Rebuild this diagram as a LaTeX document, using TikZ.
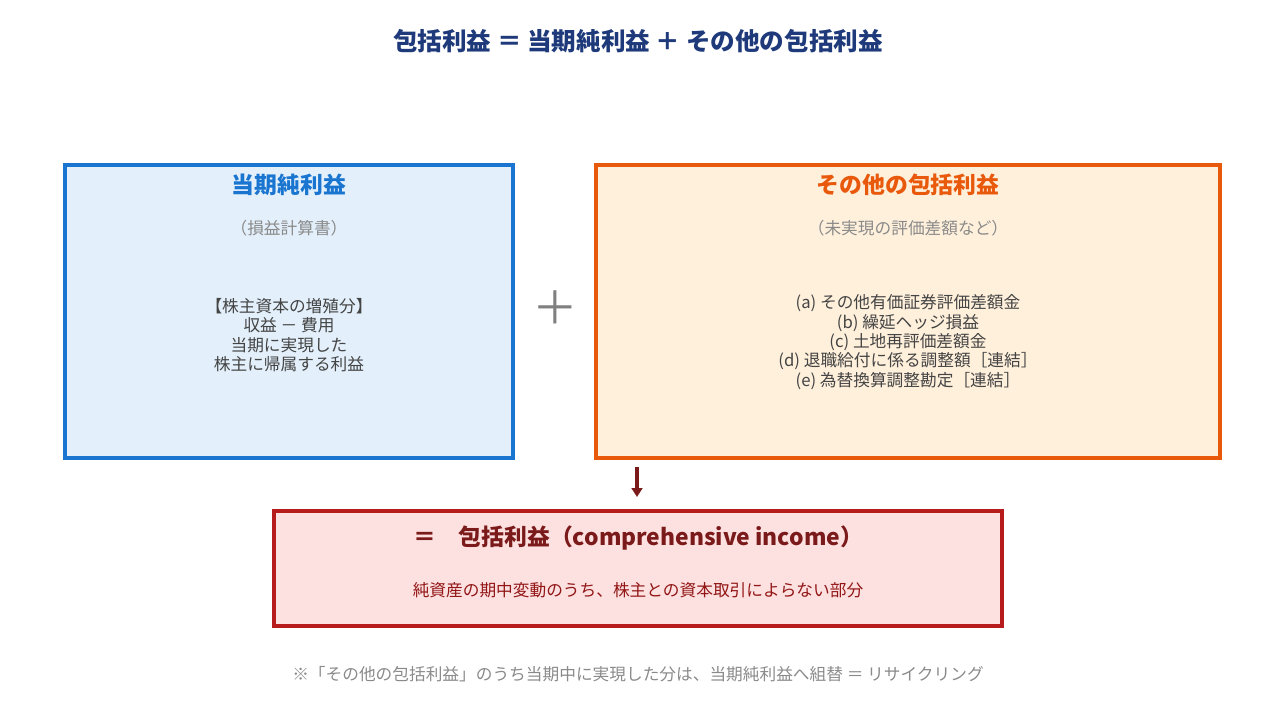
\documentclass[tikz,border=0pt]{standalone}
\usepackage{fontspec}
\setmainfont{Noto Sans CJK JP}
\newfontfamily\cjkbold[BoldFont={Noto Sans CJK JP Bold}]{Noto Sans CJK JP}
\usetikzlibrary{arrows.meta}
\definecolor{navy}{HTML}{1F3A7A}
\definecolor{blueline}{HTML}{1A75D0}
\definecolor{bluefill}{HTML}{E3F0FB}
\definecolor{orangeline}{HTML}{E8590C}
\definecolor{orangefill}{HTML}{FFF0DC}
\definecolor{redline}{HTML}{B71C1C}
\definecolor{redfill}{HTML}{FDE0E0}
\definecolor{darkred}{HTML}{7B1A1A}
\definecolor{graytext}{HTML}{8A8A8A}
\definecolor{bodytext}{HTML}{444444}
\tikzset{
  box/.style={draw, line width=2pt, inner sep=0pt},
  head/.style={font=\fontsize{13}{15}\selectfont\bfseries},
  sub/.style={font=\fontsize{9.5}{11}\selectfont, text=graytext},
  body/.style={font=\fontsize{9.5}{11}\selectfont, text=bodytext, align=center}
}
\begin{document}
\begin{tikzpicture}[x=0.02cm,y=-0.02cm]
        \useasboundingbox (0,0) rectangle (1275,717);
        \node[text=navy, font=\fontsize{14}{16}\selectfont\bfseries] (title) at (638,41) {包括利益 ＝ 当期純利益 ＋ その他の包括利益};

        \draw[box, draw=blueline, fill=bluefill] (65,165) rectangle (513,458);
        \node[head, text=blueline] (netHead) at (289,185) {当期純利益};
        \node[sub] (netSub) at (289,228) {（損益計算書）};
        \node[body] (netBody) at (289,335) {【株主資本の増殖分】\\収益 － 費用\\当期に実現した\\株主に帰属する利益};

        \node[text=gray, font=\fontsize{26}{28}\selectfont] (plus) at (555,308) {＋};

        \draw[box, draw=orangeline, fill=orangefill] (596,165) rectangle (1220,458);
        \node[head, text=orangeline] (ociHead) at (908,185) {その他の包括利益};
        \node[sub] (ociSub) at (908,228) {（未実現の評価差額など）};
        \node[body] (ociBody) at (908,342) {(a) その他有価証券評価差額金\\(b) 繰延ヘッジ損益\\(c) 土地再評価差額金\\(d) 退職給付に係る調整額［連結］\\(e) 為替換算調整勘定［連結］};

        \draw[box, draw=redline, fill=redfill] (274,511) rectangle (1002,626);
        \node[head, text=darkred] (ciHead) at (638,538) {＝\quad 包括利益（comprehensive income）};
        \node[font=\fontsize{9.5}{11}\selectfont, text=redline!80!black] (ciSub) at (638,590) {純資産の期中変動のうち、株主との資本取引によらない部分};

        \coordinate (arrowTop) at (637,467);
        \coordinate (arrowEnd) at (637,497);
        \draw[-{Triangle[length=5pt,width=6pt]}, line width=2.2pt, darkred] (arrowTop) -- (arrowEnd);

        \node[sub] (note) at (638,674) {※「その他の包括利益」のうち当期中に実現した分は、当期純利益へ組替 ＝ リサイクリング};
    \end{tikzpicture}
\end{document}
